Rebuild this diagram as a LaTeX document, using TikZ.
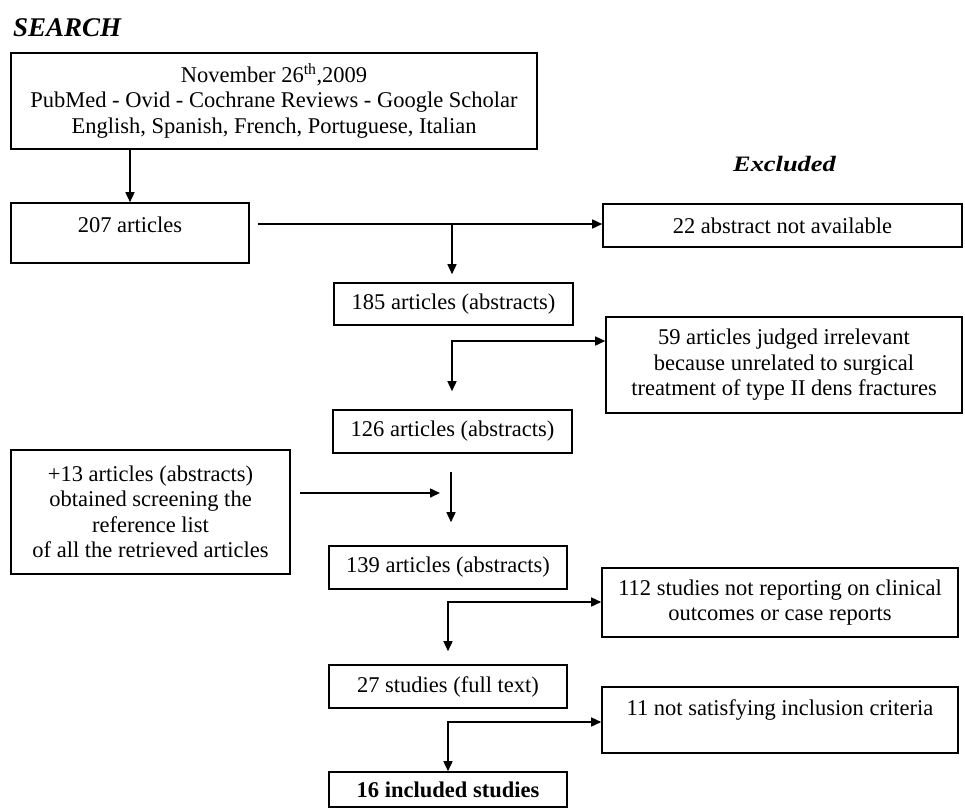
\documentclass[tikz,border=0pt]{standalone}
\usepackage{fontspec}
\setmainfont{Liberation Serif}
\usetikzlibrary{arrows.meta,calc}
\begin{document}
\begin{tikzpicture}[x=1pt,y=-1pt,
  every node/.style={font=\fontsize{22.5}{25.5}\selectfont},
  box/.style={draw, line width=1.6pt, inner sep=0pt, align=center},
  txt/.style={inner sep=0pt, align=center},
  tip/.style={-{Triangle[length=10pt,width=9pt]}},
  arr/.style={line width=1.5pt, tip},
  arrtwo/.style={line width=1.5pt, {Triangle[length=10pt,width=9pt]}-{Triangle[length=10pt,width=9pt]}},
  heading/.style={inner sep=0pt, font=\fontsize{27}{30}\selectfont\bfseries\itshape},
  subhead/.style={inner sep=0pt, font=\fontsize{22}{24}\selectfont\bfseries\itshape}]
\useasboundingbox (0,0) rectangle (965,809);

% titles
\node[heading, anchor=base west] (search) at (13,36) {SEARCH};
\node[subhead, anchor=base] (excl) at (784.5,171) {\scalebox{1.2}[1]{Excluded}};

% main column
\node[box, minimum width=526pt, minimum height=96pt] (top) at (274,101)
  {November 26\textsuperscript{th},2009\\PubMed - Ovid - Cochrane Reviews - Google Scholar\\English, Spanish, French, Portuguese, Italian};
\node[box, minimum width=238pt, minimum height=60pt] (b207) at (130,233) {};
\node[txt] (t207) at (130,225) {207 articles};
\node[box, minimum width=239pt, minimum height=42pt] (b185) at (453.5,304) {185 articles (abstracts)};
\node[box, minimum width=239pt, minimum height=43pt] (b126) at (452.5,431.5) {126 articles (abstracts)};
\node[box, minimum width=279pt, minimum height=124pt] (b13) at (150.5,512)
  {+13 articles (abstracts)\\obtained screening the\\reference list\\of all the retrieved articles};
\node[box, minimum width=238pt, minimum height=43pt] (b139) at (448,567.5) {139 articles (abstracts)};
\node[box, minimum width=238pt, minimum height=43pt] (b27) at (448,686.5) {27 studies (full text)};
\node[box, minimum width=238pt, minimum height=35pt] (b16) at (448,789.5) {\bfseries 16 included studies};

% excluded column
\node[box, minimum width=359pt, minimum height=43pt] (b22) at (782.5,225.5) {22 abstract not available};
\node[box, minimum width=356pt, minimum height=96pt] (b59) at (784,365)
  {59 articles judged irrelevant\\because unrelated to surgical\\treatment of type II dens fractures};
\node[box, minimum width=356pt, minimum height=69pt] (b112) at (780,602.5)
  {112 studies not reporting on clinical\\outcomes or case reports};
\node[box, minimum width=356pt, minimum height=66pt] (b11) at (780,720)
  {11 not satisfying inclusion criteria\\\mbox{}};

% junctions
\coordinate (j1) at (452,224);
\coordinate (j2) at (452,341);
\coordinate (h1) at (300,493);
\coordinate (h2) at (440,493);
\coordinate (v1) at (451,472);
\coordinate (j4) at (448,602);
\coordinate (j5) at (448,722);

% connectors
\draw[arr] (top.south -| b207.north) -- (b207.north);
\draw[arr] ($(b207.east |- j1)+(8,0)$) -- (b22.west |- j1);
\draw[arr, shorten >=8pt] (j1) -- (j1 |- b185.north);
\draw[arrtwo, shorten <=18pt] (j2 |- b126.north) |- (b59.west |- j2);
\draw[arr] (h1) -- (h2);
\draw[arr, shorten >=23pt] (v1) -- (v1 |- b139.north);
\draw[arrtwo, shorten <=13pt] (j4 |- b27.north) |- (b112.west |- j4);
\draw[arrtwo] (j5 |- b16.north) |- (b11.west |- j5);
\end{tikzpicture}
\end{document}
